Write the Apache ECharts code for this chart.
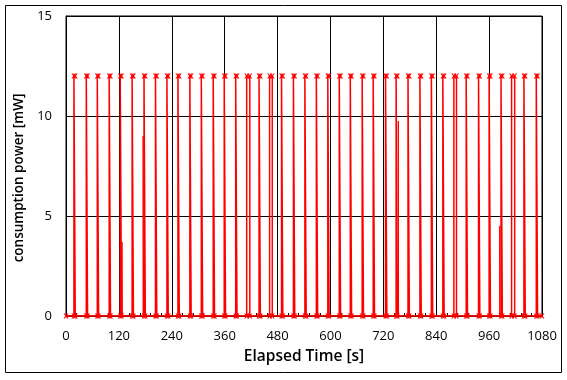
<!DOCTYPE html>
<html><head><meta charset="utf-8">
<script src="https://cdn.jsdelivr.net/npm/echarts@6/dist/echarts.min.js"></script>
<style>html,body{margin:0;padding:0;background:#fff}#c{width:567px;height:380px}</style>
</head><body><div id="c"></div>
<script>
// x tick labels (seconds) and y ticks (mW)
const xTicks = [0,120,240,360,480,600,720,840,960,1080];
const yTicks = [0,5,10,15];
// main pulses: rise time, fall time (s) and level (mW)
const spikeOn  = [18,46,71,98,123,150,177,203,229,254,281,307,334,359,385,410,438,462,489,516,542,568,594,620,645,672,697,725,749,776,803,829,855,880,908,936,960,987,1011,1039,1067];
const spikeOff = [21,49,74,101,126,153,180,206,232,257,284,310,337,362,388,417,441,468,492,519,545,571,597,623,648,675,700,728,752,779,806,832,858,886,911,939,963,990,1018,1042,1070];
const spikeLevel = [12,12,12,12,12,12,12,12,12,12,12,12,12,12,12,12,12,12,12,12,12,12,12,12,12,12,12,12,12,12,12,12,12,12,12,12,12,12,12,12,12];
// short partial pulses
const pulseTime  = [127,175,754,984];
const pulseValue = [3.7,9.0,9.75,4.5];

const mainData = [[0,0]];
spikeOn.forEach((t,i)=>{
  mainData.push([t,0],[t,spikeLevel[i]],[spikeOff[i],spikeLevel[i]],[spikeOff[i],0]);
});
mainData.push([1080,0]);
const pulseData = [[0,0]];
pulseTime.forEach((t,i)=>{ pulseData.push([t,0],[t,pulseValue[i]],[t+0.6,0]); });
pulseData.push([1080,0]);

const FONT = 'Open Sans';
const xMark = 'path://M0,0L2.5,0L5,3.2L7.5,0L10,0L6.4,5L10,10L7.5,10L5,6.8L2.5,10L0,10L3.6,5Z';

const chart = echarts.init(document.getElementById('c'), null, {renderer:'canvas'});
chart.setOption({
  animation:false,
  backgroundColor:'#fff',
  graphic:[{type:'rect', shape:{x:5.5,y:5.5,width:556,height:367}, style:{fill:'none',stroke:'#000',lineWidth:1}, silent:true}],
  grid:{left:66,right:25,top:16,bottom:64,show:true,borderColor:'#000',borderWidth:1,backgroundColor:'transparent'},
  xAxis:{type:'value',min:0,max:1080,interval:120,
    name:'Elapsed Time [s]',nameLocation:'middle',nameGap:33,
    nameTextStyle:{fontFamily:FONT,fontSize:15.5,fontWeight:600,color:'#000'},
    axisLine:{show:true,lineStyle:{color:'#000',width:1}},
    axisTick:{show:true,inside:true,length:4,lineStyle:{color:'#000'}},
    minorTick:{show:true,splitNumber:5,length:3,lineStyle:{color:'#000'}},
    axisLabel:{fontFamily:FONT,fontSize:13,color:'#000',margin:14,
      formatter:v=>String(v)},
    splitLine:{show:true,lineStyle:{color:'#000',width:1}}},
  yAxis:{type:'value',min:0,max:15,interval:5,
    name:'consumption power [mW]',nameLocation:'middle',nameGap:38,nameRotate:90,
    nameTextStyle:{fontFamily:FONT,fontSize:13.5,fontWeight:600,color:'#000',padding:[0,24,0,0]},
    axisLine:{show:true,lineStyle:{color:'#000',width:1}},
    axisTick:{show:false},
    axisLabel:{fontFamily:FONT,fontSize:13,color:'#000',margin:14,formatter:v=>String(v)},
    splitLine:{show:true,lineStyle:{color:'#000',width:1}}},
  series:[
    {type:'line',data:pulseData,showSymbol:false,symbol:'none',
      lineStyle:{color:'#ff0000',width:1},z:3},
    {type:'line',data:mainData,symbol:xMark,symbolSize:5,showSymbol:true,showAllSymbol:true,
      itemStyle:{color:'#ff0000'},lineStyle:{color:'#ff0000',width:1.5},z:4}
  ]
});
</script></body></html>
